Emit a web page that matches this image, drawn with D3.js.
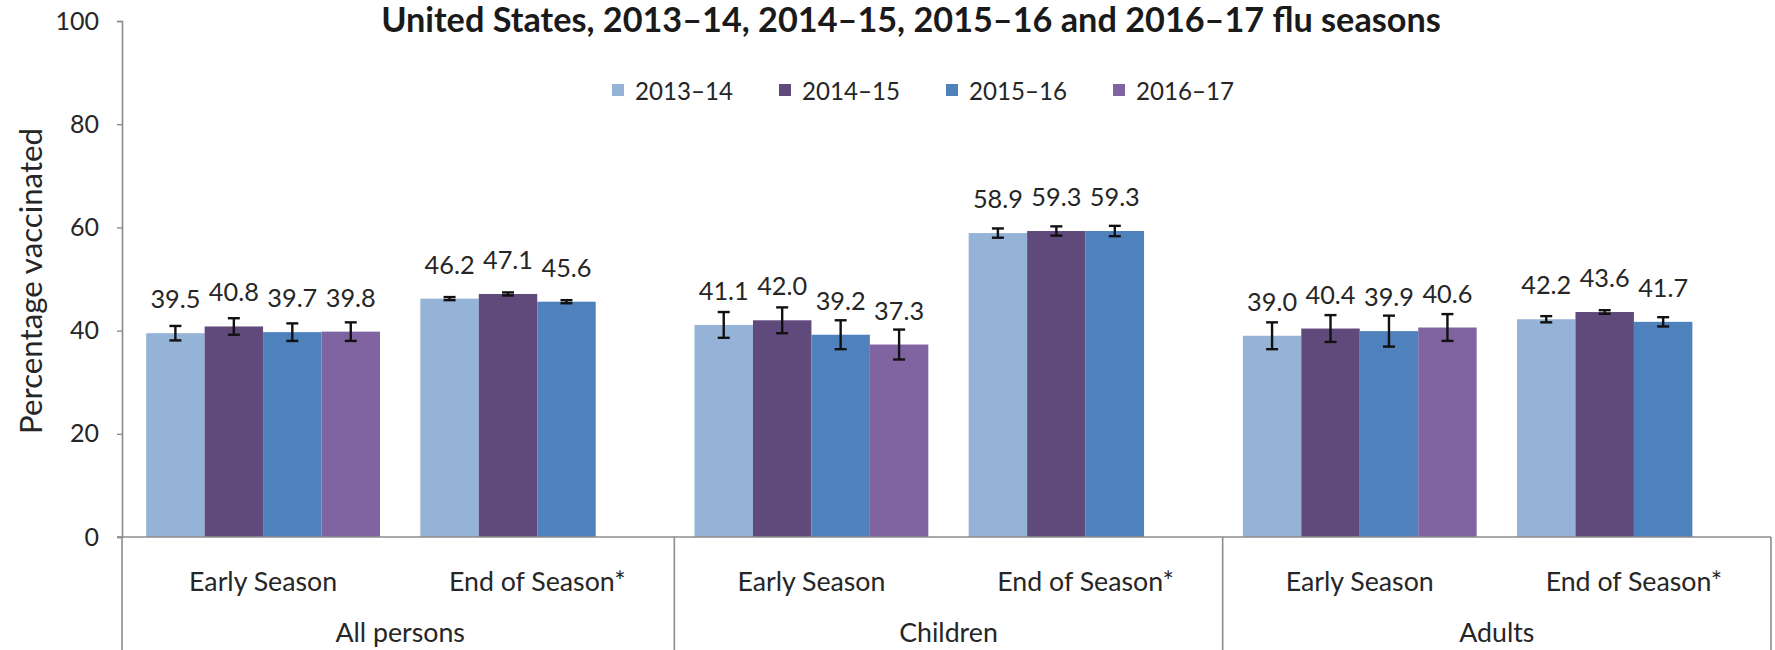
<!DOCTYPE html>
<html>
<head>
<meta charset="utf-8">
<script src="https://cdn.jsdelivr.net/npm/d3@7"></script>
<style>
  html, body { margin: 0; padding: 0; background: #fff; }
  svg { display: block; }
  text { font-family: Lato, "Open Sans", sans-serif; fill: #262626; }
</style>
</head>
<body>
<svg id="chart" width="1775" height="650"></svg>
<script>
// ---- data ----
const groups = ["All persons", "Children", "Adults"];
const subcats = ["Early Season", "End of Season*"];
const categories = ["All-Early", "All-End", "Children-Early", "Children-End", "Adults-Early", "Adults-End"];
const seasons = ["2013\u201314", "2014\u201315", "2015\u201316", "2016\u201317"];
const s2013 = [39.5, 46.2, 41.1, 58.9, 39.0, 42.2];
const s2014 = [40.8, 47.1, 42.0, 59.3, 40.4, 43.6];
const s2015 = [39.7, 45.6, 39.2, 59.3, 39.9, 41.7];
const s2016 = [39.8, null, 37.3, null, 40.6, null];
const e2013 = [1.4, 0.3, 2.5, 0.9, 2.6, 0.6];
const e2014 = [1.6, 0.3, 2.5, 0.9, 2.6, 0.35];
const e2015 = [1.7, 0.3, 2.8, 1.0, 3.0, 0.9];
const e2016 = [1.8, null, 2.9, null, 2.6, null];
const yTicks = [0, 20, 40, 60, 80, 100];
const titleText = "United States,  2013\u201314, 2014\u201315, 2015\u201316 and 2016\u201317 flu seasons";
const yTitle = "Percentage vaccinated";

const seriesValues = [s2013, s2014, s2015, s2016];
const seriesErrors = [e2013, e2014, e2015, e2016];
const colors = ["#95B3D7", "#604A7B", "#4F81BD", "#8064A2"];

// ---- layout ----
const svg = d3.select("#chart");
const axisX = 122, plotRight = 1771;
const y = d3.scaleLinear().domain([0, 100]).range([537, 21]);
const x0 = d3.scaleBand().domain(categories).range([126, plotRight]).padding(0);
const x1 = d3.scaleBand().domain(seasons).range([0, x0.bandwidth()]).paddingInner(0).paddingOuter(0.345);
const groupScale = d3.scaleBand().domain(groups).range([126, plotRight]).padding(0);

function fitFont(sel, target) {
  const w = sel.node().getComputedTextLength();
  const fs = parseFloat(sel.style("font-size"));
  return fs * target / w;
}

// measure font sizes for classes
const probe = svg.append("text").attr("font-size", 30).text("39.5");
const valueFs = fitFont(probe, 50);
probe.text("Early Season");
const catFs = fitFont(probe, 148);
probe.text("2013\u201314");
const legFs = fitFont(probe, 98);
probe.remove();

// ---- title ----
const title = svg.append("text")
  .attr("x", 911).attr("y", 32)
  .attr("text-anchor", "middle")
  .attr("font-weight", "bold")
  .attr("font-size", 30)
  .style("fill", "#1a1a1a")
  .text(titleText);
title.attr("font-size", fitFont(title, 1060));

// ---- legend ----
const legend = svg.append("g");
seasons.forEach((s, i) => {
  const lx = 612 + i * 167;
  legend.append("rect").attr("x", lx).attr("y", 84).attr("width", 12).attr("height", 12).attr("fill", colors[i]);
  legend.append("text").attr("x", lx + 23).attr("y", 90).attr("dominant-baseline", "central")
    .attr("font-size", legFs).text(s);
});

// ---- y axis ----
const yAxis = d3.axisLeft(y).tickValues(yTicks).tickSize(5).tickPadding(18);
const gy = svg.append("g").attr("transform", `translate(${axisX},0)`).call(yAxis);
gy.select(".domain").attr("stroke", "#8c8c8c").attr("stroke-width", 1.6);
gy.selectAll(".tick line").attr("stroke", "#8c8c8c").attr("stroke-width", 1.4);
gy.selectAll(".tick text").attr("font-size", 25).style("font-family", "Lato, sans-serif").style("fill", "#262626");

svg.append("text")
  .attr("transform", `translate(30,281) rotate(-90)`)
  .attr("text-anchor", "middle").attr("dominant-baseline", "central")
  .attr("font-size", 26)
  .text(yTitle)
  .call(s => s.attr("font-size", fitFont(s, 306)));

// ---- bars ----
const barData = [];
categories.forEach((c, ci) => {
  seasons.forEach((s, si) => {
    const v = seriesValues[si][ci];
    if (v != null) barData.push({ c, s, si, v, e: seriesErrors[si][ci] });
  });
});

const bars = svg.append("g");
bars.selectAll("rect").data(barData).join("rect")
  .attr("x", d => x0(d.c) + x1(d.s))
  .attr("width", x1.bandwidth())
  .attr("y", d => y(d.v))
  .attr("height", d => y(0) - y(d.v))
  .attr("fill", d => colors[d.si]);

// error bars
const eb = svg.append("g").attr("stroke", "#111").attr("stroke-width", 2.4);
barData.forEach(d => {
  const cx = x0(d.c) + x1(d.s) + x1.bandwidth() / 2;
  eb.append("line").attr("x1", cx).attr("x2", cx).attr("y1", y(d.v + d.e)).attr("y2", y(d.v - d.e));
  eb.append("line").attr("x1", cx - 6).attr("x2", cx + 6).attr("y1", y(d.v + d.e)).attr("y2", y(d.v + d.e));
  eb.append("line").attr("x1", cx - 6).attr("x2", cx + 6).attr("y1", y(d.v - d.e)).attr("y2", y(d.v - d.e));
});

// value labels
svg.append("g").selectAll("text").data(barData).join("text")
  .attr("x", d => x0(d.c) + x1(d.s) + x1.bandwidth() / 2)
  .attr("y", d => y(d.v) - 35)
  .attr("text-anchor", "middle").attr("dominant-baseline", "central")
  .attr("font-size", valueFs)
  .text(d => d.v.toFixed(1));

// ---- x axis ----
const axisG = svg.append("g").attr("stroke", "#8c8c8c").attr("stroke-width", 1.6);
axisG.append("line").attr("x1", axisX - 5).attr("x2", plotRight).attr("y1", y(0)).attr("y2", y(0));
// group separators
const seps = [axisX].concat(groups.map(g => groupScale(g) + groupScale.bandwidth()));
seps.forEach((sx, i) => {
  const xx = i === 0 ? axisX : Math.min(sx, plotRight);
  axisG.append("line").attr("x1", xx).attr("x2", xx).attr("y1", y(0)).attr("y2", 650);
});

// sub-category labels
svg.append("g").selectAll("text").data(categories).join("text")
  .attr("x", d => x0(d) + x0.bandwidth() / 2)
  .attr("y", 581)
  .attr("text-anchor", "middle").attr("dominant-baseline", "central")
  .attr("font-size", catFs)
  .text((d, i) => subcats[i % 2]);

// group labels
svg.append("g").selectAll("text").data(groups).join("text")
  .attr("x", d => groupScale(d) + groupScale.bandwidth() / 2)
  .attr("y", 632)
  .attr("text-anchor", "middle").attr("dominant-baseline", "central")
  .attr("font-size", catFs)
  .text(d => d);
</script>
</body>
</html>
